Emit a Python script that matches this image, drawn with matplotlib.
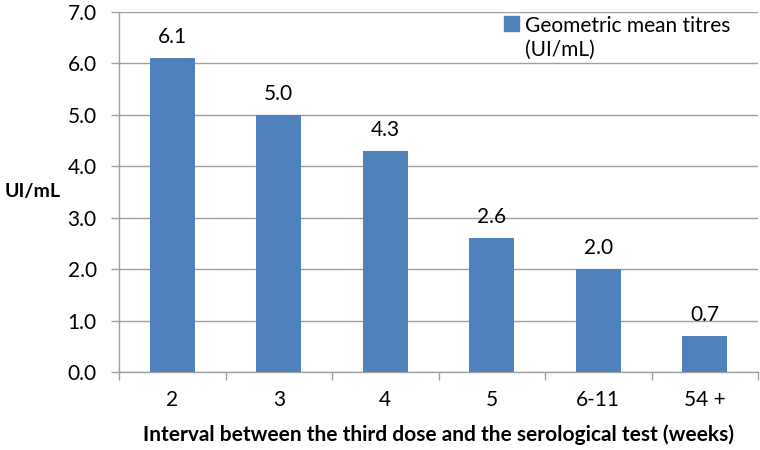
import matplotlib
matplotlib.use("Agg")
import matplotlib.pyplot as plt
from matplotlib.patches import Patch

categories = ["2", "3", "4", "5", "6-11", "54 +"]
values = [6.1, 5.0, 4.3, 2.6, 2.0, 0.7]
value_labels = ["6.1", "5.0", "4.3", "2.6", "2.0", "0.7"]
yticks = [0, 1, 2, 3, 4, 5, 6, 7]
series_name = "Geometric mean titres\n(UI/mL)"

plt.rcParams['font.family'] = ['Lato', 'DejaVu Sans']

bar_color = "#4F81BD"
grid_color = "#A0A0A0"
FS = 15

fig = plt.figure(figsize=(7.6, 4.5), dpi=100)
ax = fig.add_axes([119/760, 78/450, 639/760, 360/450])

x = list(range(len(categories)))
ax.bar(x, values, width=0.42, color=bar_color, zorder=3)
for xi, v, lab in zip(x, values, value_labels):
    ax.annotate(lab, (xi, v), xytext=(0, 8), textcoords="offset points",
                ha="center", va="bottom", fontsize=FS, color="black")

ax.set_xlim(-0.5, len(categories) - 0.5)
ax.set_ylim(0, 7)
ax.set_yticks(yticks)
ax.set_yticklabels([f"{t:.1f}" for t in yticks], fontsize=FS)
ax.yaxis.grid(True, color=grid_color, linewidth=1, zorder=0)
ax.tick_params(axis="y", length=6, color=grid_color, pad=10, width=1)

ax.set_xticks(x)
ax.set_xticklabels(categories, fontsize=FS)
ax.set_xticks([i - 0.5 for i in range(len(categories) + 1)], minor=True)
ax.tick_params(axis="x", which="major", length=0, pad=13)
ax.tick_params(axis="x", which="minor", length=6, color=grid_color, width=1)

for s in ["top", "right"]:
    ax.spines[s].set_visible(False)
for s in ["left", "bottom"]:
    ax.spines[s].set_color(grid_color)
    ax.spines[s].set_linewidth(1)

ax.set_xlabel("Interval between the third dose and the serological test (weeks)",
              fontsize=FS, fontweight="bold", labelpad=10)
fig.text(5/760, 1 - 191/450, "UI/mL", fontsize=14, fontweight="bold",
         ha="left", va="center")

leg = ax.legend(handles=[Patch(color=bar_color, label=series_name)],
                loc="upper left", bbox_to_anchor=(500/760, 1 - 12/450),
                bbox_transform=fig.transFigure, frameon=False, fontsize=FS,
                handlelength=0.7, handleheight=0.7, handletextpad=0.3,
                borderaxespad=0, borderpad=0.2)
for t in leg.get_texts():
    t.set_linespacing(1.25)
try:
    for col in leg._legend_handle_box.get_children():
        for row in col.get_children():
            row.align = "top"
except Exception:
    pass

fig.savefig("out.png", dpi=100, facecolor="white")
